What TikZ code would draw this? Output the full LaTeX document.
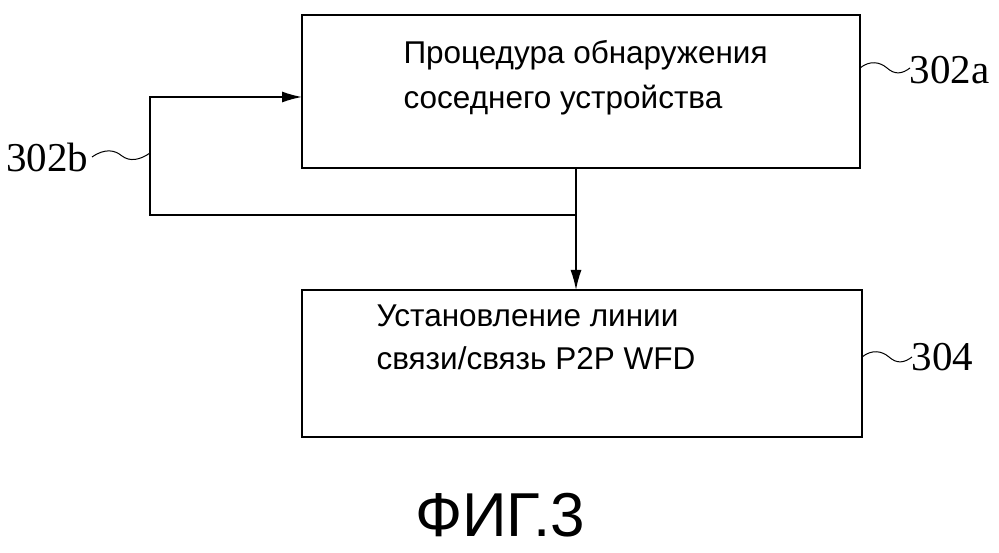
\documentclass[tikz,border=0pt]{standalone}
\usepackage{fontspec}
\usetikzlibrary{arrows.meta}
\setmainfont{Liberation Sans}
\newfontfamily\lblfont{Liberation Serif}
\begin{document}
\begin{tikzpicture}[x=1pt,y=-1pt,
  blk/.style={draw,line width=1.6pt},
  txt/.style={anchor=west,font=\fontsize{31.5}{36}\selectfont},
  lbl/.style={font=\lblfont\fontsize{41}{44}\selectfont},
  conn/.style={line width=1.4pt,-{Latex[length=20,width=11]}},
  sq/.style={line width=1pt}]
\useasboundingbox (0,0) rectangle (999,553);
\draw[blk] (302,15) rectangle (860,168);
\draw[blk] (302,290) rectangle (862,437);
\node[txt] (t1) at (400,55) {Процедура обнаружения};
\node[txt] (t2) at (400,100) {соседнего устройства};
\node[txt] (t3) at (373,316) {Установление линии};
\node[txt] (t4) at (373,358) {связи/связь P2P WFD};
\coordinate (a) at (576,168);
\coordinate (b) at (576,290);
\coordinate (j) at (576,215);
\coordinate (c) at (150,215);
\coordinate (d) at (150,97);
\coordinate (e) at (302,97);
\draw[conn] (a) -- (b);
\draw[conn] (j) -- (c) -- (d) -- (e);
\node[lbl,anchor=east] (l1) at (92,157) {302b};
\draw[sq] (92,157) .. controls (105,148) and (115,150) .. (122,156) .. controls (130,162) and (140,160) .. (150,153);
\node[lbl,anchor=west] (l2) at (906,70) {302a};
\draw[sq] (860,68) .. controls (870,60) and (880,62) .. (887,68) .. controls (895,75) and (902,74) .. (910,68);
\node[lbl,anchor=west] (l3) at (908,357) {304};
\draw[sq] (862,357) .. controls (872,349) and (882,351) .. (889,357) .. controls (897,364) and (904,363) .. (912,357);
\node[font=\fontsize{62}{66}\selectfont] (f) at (500,515) {ФИГ.3};
\end{tikzpicture}
\end{document}
